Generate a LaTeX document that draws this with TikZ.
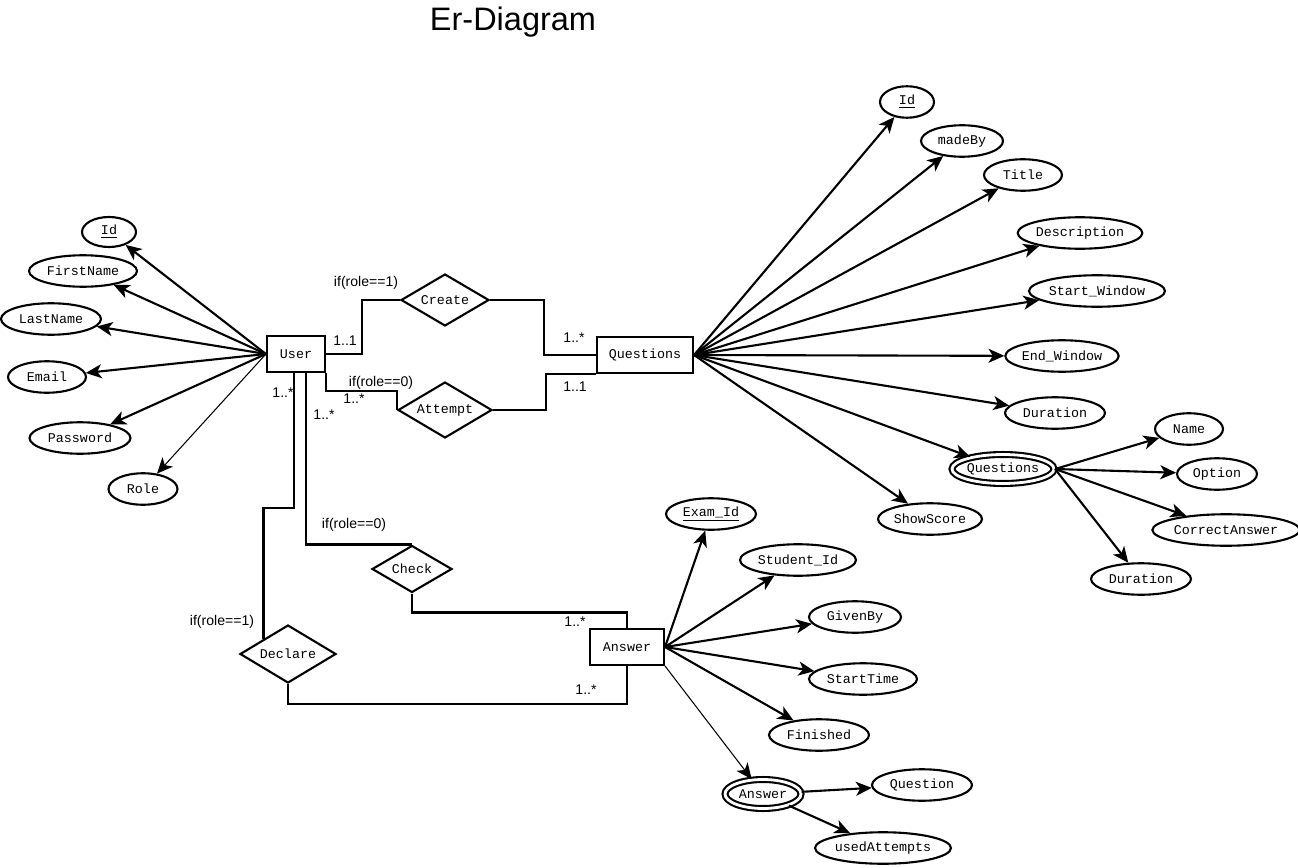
\documentclass[tikz,border=0pt]{standalone}
\usepackage{fontspec}
\setmainfont{Liberation Sans}
\setmonofont{Liberation Mono}
\usepackage{tikz}
\usetikzlibrary{calc,shapes,shapes.geometric,arrows.meta,positioning}
\newcommand{\attrFont}{\ttfamily\fontsize{7.6}{9}\selectfont}
\newcommand{\condFont}{\fontsize{8}{10}\selectfont}
\tikzset{
   entity node/.style={rectangle,draw,line width=1.2pt,inner sep=0pt,minimum width=1.16cm,minimum height=0.71cm,font=\attrFont},
   attr node/.style={ellipse,draw,line width=1.2pt,inner sep=0pt,minimum height=0.63cm,font=\attrFont},
   weak node/.style={attr node,double,double distance=1.6pt,minimum height=0.58cm},
   rel node/.style={diamond,draw,line width=1.2pt,inner sep=0pt,aspect=1.7,font=\attrFont},
   cond node/.style={inner sep=0pt,font=\condFont},
   thin/.style={line width=0.6pt}
}

\begin{document}
\begin{tikzpicture}[->,>={Stealth[length=9pt,width=8pt,inset=2.5pt]},x=0.02cm,y=-0.02cm,line width=1.2pt]
\useasboundingbox (0,0) rectangle (1298,868);
\node[cond node, font=\fontsize{18.5}{22}\selectfont] (title) at (513,22) {Er-Diagram};

% entities
\node[entity node] (User) at (296,354) {User};
\node[entity node, minimum width=1.92cm, minimum height=0.72cm] (Questions) at (645,355) {Questions};
\node[entity node, minimum width=1.48cm, minimum height=0.72cm] (Answer) at (627,647) {Answer};

% user
\node[attr node, minimum width=1.08cm, minimum height=0.6cm] (uId) at (109,232) {\underline{Id}};
\node[attr node, minimum width=2.16cm] (uFirst) at (83,271) {FirstName};
\node[attr node, minimum width=2.0cm] (uLast) at (51,319) {LastName};
\node[attr node, minimum width=1.56cm] (uEmail) at (47,377) {Email};
\node[attr node, minimum width=2.02cm] (uPass) at (80,438) {Password};
\node[attr node, minimum width=1.38cm] (uRole) at (143,489) {Role};

\draw (User.west) -- (uId);
\draw (User.west) -- (uFirst);
\draw (User.west) -- (uLast);
\draw (User.west) -- (uEmail);
\draw (User.west) -- (uPass);
\draw[thin] (User.west) -- (uRole);

% relations
\node[rel node, minimum width=1.76cm, minimum height=1.04cm] (Create) at (445,300) {Create};
\node[rel node, minimum width=1.88cm, minimum height=1.12cm] (Attempt) at (445,410) {Attempt};
\node[rel node, minimum width=1.6cm, minimum height=0.94cm] (Check) at (412,569) {Check};
\node[rel node, minimum width=1.92cm, minimum height=1.16cm] (Declare) at (288,654) {Declare};

\begin{scope}[-]
\draw (User.east) -- ++(36,0) |- (Create.west);
\draw (Create.east) -- ++(54,0) |- (Questions.west);
\draw (User.south east) -- ++(0,18) -| (Attempt.west);
\draw (Attempt.east) -- ++(53,0) |- (Questions.south west);
\draw ($(User.south)+(-2,0)$) -- ++(0,135) -| (Declare.north west);
\draw ($(User.south)+(10,0)$) |- (Check.north);
\draw (Check.south) -- ++(0,19) -| (Answer.north);
\draw (Declare.south) -- ++(0,20) -| (Answer.south);
\end{scope}

\node[cond node] (cCreate) at (366,283) {if(role==1)};
\node[cond node] (mCreateU) at (345,341) {1..1};
\node[cond node] (mCreateQ) at (574,338) {1..*};
\node[cond node] (cAttempt) at (381,383) {if(role==0)};
\node[cond node] (mAttemptU) at (354,399) {1..*};
\node[cond node] (mAttemptQ) at (575,387) {1..1};
\node[cond node] (mDeclareU) at (283,393) {1..*};
\node[cond node] (mCheckU) at (324,415) {1..*};
\node[cond node] (cCheck) at (354,525) {if(role==0)};
\node[cond node] (cDeclare) at (222,622) {if(role==1)};
\node[cond node] (mCheckA) at (575,622) {1..*};
\node[cond node] (mDeclareA) at (586,690) {1..*};

% questions
\node[attr node, minimum width=1.08cm] (qId) at (907,102) {\underline{Id}};
\node[attr node, minimum width=1.64cm] (qMade) at (962,141) {madeBy};
\node[attr node, minimum width=1.56cm] (qTitle) at (1023,175) {Title};
\node[attr node, minimum width=2.44cm] (qDesc) at (1080,233) {Description};
\node[attr node, minimum width=2.6cm] (qStart) at (1097,291) {Start\_Window};
\node[attr node, minimum width=1.76cm] (qEnd) at (1062,356) {End\_Window};
\node[attr node, minimum width=2.0cm] (qDur) at (1055,413) {Duration};
\node[weak node, minimum width=2.02cm] (qSub) at (1003,469) {Questions};
\node[attr node, minimum width=2.08cm] (qShow) at (930,519) {ShowScore};

\foreach \a in {qId,qMade,qTitle,qDesc,qStart,qEnd,qDur,qSub,qShow}
  \draw (Questions.east) -- (\a);

\node[attr node, minimum width=1.36cm] (sName) at (1189,429) {Name};
\node[attr node, minimum width=1.6cm] (sOption) at (1217,474) {Option};
\node[attr node, minimum width=2.74cm] (sCorrect) at (1226,530) {CorrectAnswer};
\node[attr node, minimum width=2.0cm] (sDur) at (1141,579) {Duration};

\foreach \a in {sName,sOption,sCorrect,sDur}
  \draw (qSub.east) -- (\a);

% answer
\node[attr node, minimum width=1.8cm] (aExam) at (711,514) {\underline{Exam\_Id}};
\node[attr node, minimum width=2.32cm] (aStudent) at (798,560) {Student\_Id};
\node[attr node, minimum width=1.84cm] (aGiven) at (855,617) {GivenBy};
\node[attr node, minimum width=2.16cm] (aStart) at (863,679) {StartTime};
\node[attr node, minimum width=2.0cm] (aFin) at (819,735) {Finished};
\node[weak node, minimum width=1.52cm] (aSub) at (763,794) {Answer};
\node[attr node, minimum width=2.0cm] (aQuest) at (922,785) {Question};
\node[attr node, minimum width=2.6cm] (aUsed) at (883,848) {usedAttempts};

\foreach \a in {aExam,aStudent,aGiven,aStart,aFin}
  \draw (Answer.east) -- (\a);
\draw[thin] (Answer.south east) -- (aSub);
\draw (aSub) -- (aQuest);
\draw (aSub) -- (aUsed);

\end{tikzpicture}
\end{document}
